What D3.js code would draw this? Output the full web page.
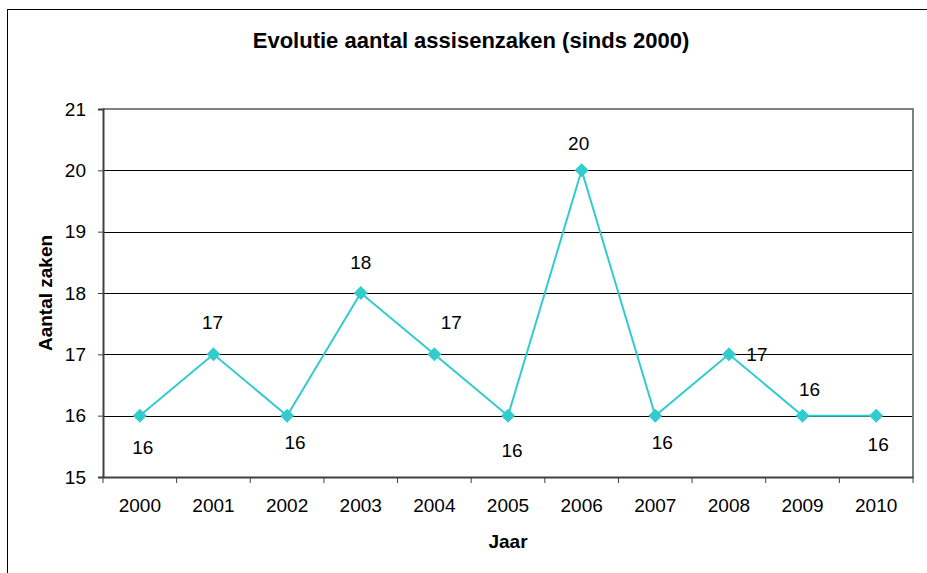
<!DOCTYPE html>
<html><head><meta charset="utf-8">
<script src="https://cdn.jsdelivr.net/npm/d3@7"></script>
<style>body{margin:0;background:#fff}svg{display:block;font-family:"Liberation Sans",Arial,sans-serif}</style>
</head><body>
<script>
const years = ["2000","2001","2002","2003","2004","2005","2006","2007","2008","2009","2010"];
const cases = [16,17,16,18,17,16,20,16,17,16,16];
const yTicks = [15,16,17,18,19,20,21];
const titleText = "Evolutie aantal assisenzaken (sinds 2000)";
const xTitle = "Jaar", yTitle = "Aantal zaken";
// label placement (offset from marker), style only
const labelOffsets = [[3,32],[-1,-32],[8,27],[0,-31],[17,-32],[4,35],[-3,-27],[7,27],[28,0],[7,-26],[2,29]];

const W=927,H=573;
const svg=d3.select("body").append("svg").attr("width",W).attr("height",H);
svg.append("rect").attr("x",7.5).attr("y",9.5).attr("width",W).attr("height",H).attr("fill","#fff").attr("stroke","#000").attr("stroke-width",1);

const L=103,T=109,R=913,B=477;
const x=d3.scaleBand().domain(years).range([L,R]);
const y=d3.scaleLinear().domain([15,21]).range([B,T]);
const FS=19;

// gridlines
svg.append("g").selectAll("line").data(yTicks.filter(v=>v>15&&v<21)).join("line")
 .attr("x1",L).attr("x2",R).attr("y1",d=>Math.round(y(d))+0.5).attr("y2",d=>Math.round(y(d))+0.5)
 .attr("stroke","#000").attr("stroke-width",1);
// plot border top/right
svg.append("path").attr("d",`M${L},${T}H${R}V${B}`).attr("fill","none").attr("stroke","#808080").attr("stroke-width",2);

// axes
const yAxis=d3.axisLeft(y).tickValues(yTicks).tickSize(5).tickPadding(12).tickFormat(d3.format("d"));
const gy=svg.append("g").attr("transform",`translate(${L},0)`).call(yAxis);
gy.select(".domain").attr("stroke","#404040").attr("stroke-width",2);
gy.selectAll(".tick line").attr("stroke","#404040");
gy.selectAll("text").attr("font-size",FS).attr("fill","#000");

const xAxis=d3.axisBottom(x).tickSize(0).tickPadding(21.5);
const gx=svg.append("g").attr("transform",`translate(0,${B})`).call(xAxis);
gx.select(".domain").attr("stroke","#404040").attr("stroke-width",2);
gx.selectAll("text").attr("font-size",FS).attr("fill","#000");
// tick marks at band edges
const edges=years.map(d=>x(d)).concat([x(years[years.length-1])+x.bandwidth()]);
svg.append("g").selectAll("line").data(edges).join("line")
 .attr("x1",d=>d).attr("x2",d=>d).attr("y1",B).attr("y2",B+6).attr("stroke","#404040").attr("stroke-width",1);

// line
const cx=d=>x(d)+x.bandwidth()/2;
svg.append("path").datum(years.map((d,i)=>[cx(d),y(cases[i])]))
 .attr("d",d3.line()).attr("fill","none").attr("stroke","#33cccc").attr("stroke-width",2);
svg.append("g").selectAll("path").data(years).join("path")
 .attr("transform",(d,i)=>`translate(${cx(d)},${y(cases[i])})`)
 .attr("d","M0,-7L7,0L0,7L-7,0Z").attr("fill","#33cccc");

// labels
svg.append("g").selectAll("text").data(years).join("text")
 .attr("x",(d,i)=>cx(d)+labelOffsets[i][0]).attr("y",(d,i)=>y(cases[i])+labelOffsets[i][1])
 .attr("dy","0.35em").attr("text-anchor","middle").attr("font-size",FS).text((d,i)=>cases[i]);

// titles
svg.append("text").attr("x",471).attr("y",48).attr("text-anchor","middle").attr("font-size",22).attr("font-weight","bold").text(titleText);
svg.append("text").attr("x",508).attr("y",548).attr("text-anchor","middle").attr("font-size",19).attr("font-weight","bold").text(xTitle);
svg.append("text").attr("transform","translate(52,293) rotate(-90)").attr("text-anchor","middle").attr("font-size",19).attr("font-weight","bold").text(yTitle);
</script>
</body></html>
